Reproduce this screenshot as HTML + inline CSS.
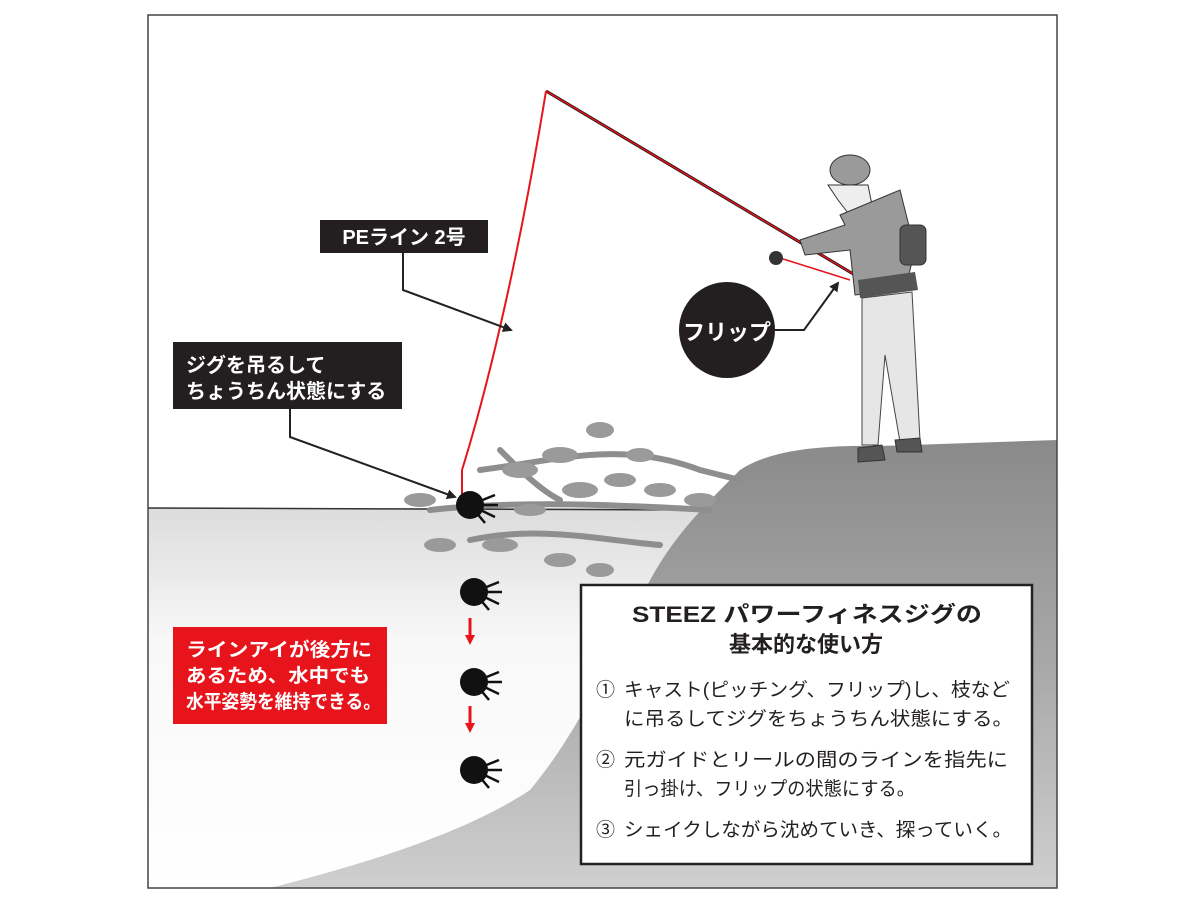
<!DOCTYPE html>
<html><head><meta charset="utf-8"><style>
html,body{margin:0;padding:0;background:#fff}
svg{display:block}
text{font-family:"Liberation Sans","Noto Sans CJK JP",sans-serif}
</style></head><body>
<svg width="1200" height="900" viewBox="0 0 1200 900" xmlns="http://www.w3.org/2000/svg">
<defs>
<linearGradient id="w" x1="0" y1="0" x2="0" y2="1"><stop offset="0" stop-color="#dcdcdc"/><stop offset="0.35" stop-color="#f8f8f8"/><stop offset="1" stop-color="#fff"/></linearGradient>
<linearGradient id="l" x1="0" y1="0" x2="0" y2="1"><stop offset="0" stop-color="#8a8a8a"/><stop offset="0.5" stop-color="#a8a8a8"/><stop offset="1" stop-color="#cfcfcf"/></linearGradient>
<marker id="a" markerWidth="10" markerHeight="10" refX="8" refY="5" orient="auto" markerUnits="userSpaceOnUse"><path d="M0,0 L10,5 L0,10 z" fill="#222"/></marker>
<marker id="r" markerWidth="10" markerHeight="10" refX="5" refY="5" orient="auto" markerUnits="userSpaceOnUse"><path d="M0,0 L10,5 L0,10 z" fill="#e8141c"/></marker>
</defs>
<rect x="148" y="508" width="909" height="380" fill="url(#w)"/>
<line x1="148" y1="508" x2="720" y2="510" stroke="#333" stroke-width="1.5"/>
<path d="M740,470 C770,450 820,445 880,446 L1057,440 L1057,888 L270,888 C380,860 470,830 530,790 C580,730 610,660 645,590 C670,540 700,510 740,470 Z" fill="url(#l)"/>
<g stroke="#8e8e8e" stroke-width="6" fill="none" stroke-linecap="round">
<path d="M430,510 C520,500 620,505 710,510"/>
<path d="M480,470 C560,460 620,440 700,470 L740,480"/>
<path d="M470,540 C540,525 600,540 660,545"/>
<path d="M500,450 C520,470 540,490 560,500"/>
</g>
<g fill="#9a9a9a">
<ellipse cx="420" cy="500" rx="16" ry="7"/><ellipse cx="440" cy="545" rx="16" ry="7"/><ellipse cx="500" cy="545" rx="18" ry="7"/>
<ellipse cx="520" cy="470" rx="18" ry="8"/><ellipse cx="560" cy="455" rx="18" ry="8"/><ellipse cx="600" cy="430" rx="14" ry="8"/>
<ellipse cx="580" cy="490" rx="18" ry="8"/><ellipse cx="620" cy="480" rx="16" ry="7"/><ellipse cx="660" cy="490" rx="16" ry="7"/>
<ellipse cx="560" cy="560" rx="16" ry="7"/><ellipse cx="600" cy="570" rx="14" ry="7"/><ellipse cx="700" cy="500" rx="16" ry="7"/>
<ellipse cx="640" cy="455" rx="14" ry="7"/><ellipse cx="530" cy="510" rx="16" ry="6"/>
</g>
<line x1="546" y1="91" x2="860" y2="278" stroke="#111" stroke-width="3"/>
<path d="M546,91 L855,275 M780,258 L850,280" stroke="#e8141c" stroke-width="1.5" fill="none"/>
<path d="M546,91 C520,250 490,380 462,470 L462,495" stroke="#e8141c" stroke-width="2" fill="none"/>
<g>
<ellipse cx="850" cy="170" rx="20" ry="15" fill="#9a9a9a" stroke="#333"/>
<path d="M828,185 L868,185 L872,205 L852,218 L838,200 Z" fill="#eee" stroke="#333"/>
<path d="M840,215 L900,190 L915,250 L905,290 L855,295 L850,250 L805,255 L800,240 L845,225 Z" fill="#9a9a9a" stroke="#333"/>
<rect x="900" y="225" width="26" height="40" rx="6" fill="#555" stroke="#333"/>
<path d="M858,280 L915,272 L918,290 L860,298 Z" fill="#555"/>
<path d="M862,298 L912,292 L920,440 L900,442 L885,355 L878,445 L862,445 Z" fill="#e6e6e6" stroke="#444"/>
<path d="M858,448 L882,445 L885,460 L858,462 Z M895,440 L920,438 L922,452 L897,452 Z" fill="#555" stroke="#333"/>
<circle cx="776" cy="258" r="7" fill="#333"/>
</g>
<circle cx="727" cy="330" r="48" fill="#231f20"/>
<text x="727" y="340" font-size="22" font-weight="bold" fill="#fff" text-anchor="middle">フリップ</text>
<path d="M775,330 L804,330 L838,283" stroke="#222" stroke-width="2" fill="none" marker-end="url(#a)"/>
<rect x="320" y="220" width="168" height="33" fill="#231f20"/>
<text x="404" y="244" font-size="20" font-weight="bold" fill="#fff" text-anchor="middle">PEライン 2号</text>
<path d="M403,253 L403,290 L511,330" stroke="#222" stroke-width="2" fill="none" marker-end="url(#a)"/>
<rect x="173" y="342" width="229" height="67" fill="#231f20"/>
<text x="186" y="372" font-size="20" font-weight="bold" fill="#fff">ジグを吊るして</text>
<text x="186" y="398" font-size="20" font-weight="bold" fill="#fff">ちょうちん状態にする</text>
<path d="M290,409 L290,437 L455,497" stroke="#222" stroke-width="2" fill="none" marker-end="url(#a)"/>
<g fill="#111">
<ellipse cx="470" cy="505" rx="14" ry="14"/><ellipse cx="474" cy="592" rx="14" ry="14"/><ellipse cx="474" cy="682" rx="14" ry="14"/><ellipse cx="474" cy="770" rx="14" ry="14"/>
</g>
<g stroke="#111" stroke-width="2.5" fill="none">
<path d="M470,505 l25,-10 M470,505 l28,0 M470,505 l25,12 M470,505 l15,18"/>
<path d="M474,592 l25,-10 M474,592 l28,0 M474,592 l25,12 M474,592 l15,18"/>
<path d="M474,682 l25,-10 M474,682 l28,0 M474,682 l25,12 M474,682 l15,18"/>
<path d="M474,770 l25,-10 M474,770 l28,0 M474,770 l25,12 M474,770 l15,18"/>
</g>
<line x1="470" y1="618" x2="470" y2="640" stroke="#e8141c" stroke-width="3" marker-end="url(#r)"/>
<line x1="470" y1="706" x2="470" y2="728" stroke="#e8141c" stroke-width="3" marker-end="url(#r)"/>
<rect x="173" y="627" width="214" height="97" fill="#e8141c"/>
<text x="186" y="656" font-size="19" font-weight="bold" fill="#fff" textLength="186" lengthAdjust="spacingAndGlyphs">ラインアイが後方に</text>
<text x="186" y="682" font-size="19" font-weight="bold" fill="#fff" textLength="184" lengthAdjust="spacingAndGlyphs">あるため、水中でも</text>
<text x="186" y="708" font-size="19" font-weight="bold" fill="#fff" textLength="195" lengthAdjust="spacingAndGlyphs">水平姿勢を維持できる。</text>
<rect x="581" y="585" width="451" height="279" fill="#fff" stroke="#222" stroke-width="2.5"/>
<text x="632" y="622" font-size="22" font-weight="bold" fill="#231f20" textLength="350" lengthAdjust="spacingAndGlyphs">STEEZ パワーフィネスジグの</text>
<text x="806" y="652" font-size="22" font-weight="bold" fill="#231f20" text-anchor="middle">基本的な使い方</text>
<g font-size="19" fill="#231f20">
<text x="596" y="696">①</text><text x="624" y="696" textLength="386" lengthAdjust="spacingAndGlyphs">キャスト(ピッチング、フリップ)し、枝など</text>
<text x="624" y="725" textLength="389" lengthAdjust="spacingAndGlyphs">に吊るしてジグをちょうちん状態にする。</text>
<text x="596" y="766">②</text><text x="624" y="766" textLength="384" lengthAdjust="spacingAndGlyphs">元ガイドとリールの間のラインを指先に</text>
<text x="624" y="795" textLength="291" lengthAdjust="spacingAndGlyphs">引っ掛け、フリップの状態にする。</text>
<text x="596" y="836">③</text><text x="624" y="836" textLength="388" lengthAdjust="spacingAndGlyphs">シェイクしながら沈めていき、探っていく。</text>
</g>
<rect x="148" y="15" width="909" height="873" fill="none" stroke="#444" stroke-width="1.5"/>
</svg>
</body></html>
